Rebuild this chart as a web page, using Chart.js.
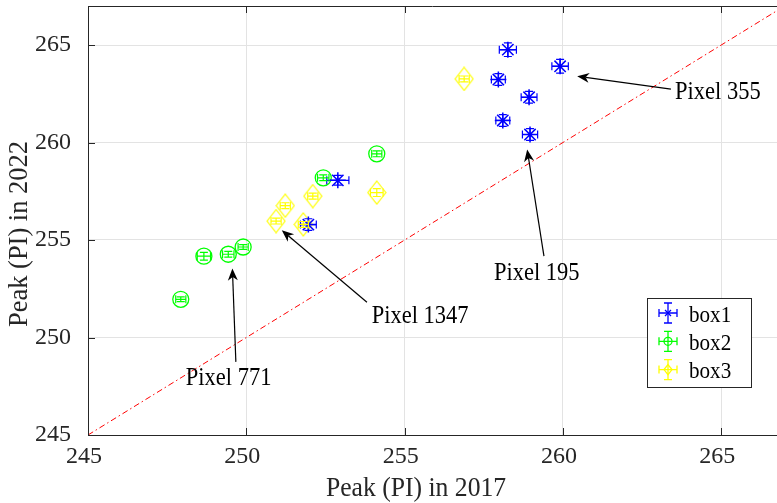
<!DOCTYPE html>
<html><head><meta charset="utf-8">
<script src="https://cdn.jsdelivr.net/npm/chart.js@4/dist/chart.umd.min.js"></script>
<style>html,body{margin:0;padding:0;background:#fff}#wrap{width:777px;height:503px;position:relative}</style>
</head><body><div id="wrap"><canvas id="c" width="777" height="503"></canvas></div>
<script>
// ---- data ----
const seriesNames = ['box1', 'box2', 'box3'];
const box1X    = [258.26, 259.91, 257.96, 258.93, 258.10, 258.96, 252.89, 251.96];
const box1Y    = [264.76, 263.91, 263.23, 262.32, 261.13, 260.41, 258.06, 255.79];
const box1XErr = [0.27, 0.26, 0.22, 0.25, 0.22, 0.24, 0.35, 0.25];
const box1YErr = [0.35, 0.35, 0.30, 0.30, 0.30, 0.30, 0.25, 0.30];
const box2X    = [247.93, 248.66, 249.43, 249.90, 252.43, 254.12];
const box2Y    = [251.96, 254.17, 254.27, 254.64, 258.19, 259.42];
const box2XErr = [0.16, 0.21, 0.18, 0.16, 0.18, 0.16];
const box2YErr = [0.12, 0.20, 0.15, 0.12, 0.15, 0.15];
const box3X    = [250.94, 251.23, 251.80, 252.10, 254.12, 256.88];
const box3Y    = [255.97, 256.76, 255.80, 257.25, 257.43, 263.26];
const box3XErr = [0.16, 0.16, 0.16, 0.16, 0.20, 0.16];
const box3YErr = [0.15, 0.15, 0.15, 0.15, 0.20, 0.15];
const diagX = [245, 270];
const diagY = [245, 270];
const xTicks = [245, 250, 255, 260, 265];
const yTicks = [245, 250, 255, 260, 265];
const xTitle = 'Peak (PI) in 2017';
const yTitle = 'Peak (PI) in 2022';
const annoLabels = ['Pixel 355', 'Pixel 195', 'Pixel 1347', 'Pixel 771'];
const annoTextX  = [263.54, 257.82, 253.96, 248.09];
const annoTextY  = [262.24, 252.97, 250.72, 247.56];
const arrowTailX = [263.41, 259.40, 253.81, 249.67];
const arrowTailY = [262.74, 254.17, 251.81, 248.75];
const arrowHeadX = [260.45, 258.87, 251.12, 249.56];
const arrowHeadY = [263.40, 259.64, 255.50, 253.54];

// ---- styling helpers ----
const FONT = 'Liberation Serif';
const AX = '#262626';
const colors = ['#0000ff', '#00ff00', '#ffff00'];

function diamondCanvas(w, h, color) {
  const c = document.createElement('canvas');
  c.width = w + 2; c.height = h + 2;
  const g = c.getContext('2d');
  g.strokeStyle = color; g.lineWidth = 1.2;
  g.beginPath();
  g.moveTo(c.width / 2, 1);
  g.lineTo(c.width - 1, c.height / 2);
  g.lineTo(c.width / 2, c.height - 1);
  g.lineTo(1, c.height / 2);
  g.closePath(); g.stroke();
  return c;
}

function pts(xs, ys) { return xs.map((v, i) => ({ x: v, y: ys[i] })); }

function text(ctx, s, x, y, size, align, sx, rot) {
  ctx.save();
  ctx.translate(x, y);
  if (rot) ctx.rotate(rot);
  ctx.scale(sx, 1);
  ctx.font = size + 'px "' + FONT + '", "Times New Roman", serif';
  ctx.textAlign = align;
  ctx.textBaseline = 'alphabetic';
  ctx.fillText(s, 0, 0);
  ctx.restore();
}

const errPlugin = {
  id: 'errbars',
  afterDatasetsDraw(chart) {
    const { ctx, scales: { x, y } } = chart;
    const cap = 4;
    chart.data.datasets.forEach(ds => {
      if (!ds.errX) return;
      ctx.save();
      ctx.strokeStyle = ds.borderColor; ctx.lineWidth = 1.2;
      ds.data.forEach((p, j) => {
        const px = x.getPixelForValue(p.x), py = y.getPixelForValue(p.y);
        const x0 = x.getPixelForValue(p.x - ds.errX[j]), x1 = x.getPixelForValue(p.x + ds.errX[j]);
        const y0 = y.getPixelForValue(p.y - ds.errY[j]), y1 = y.getPixelForValue(p.y + ds.errY[j]);
        ctx.beginPath();
        ctx.moveTo(x0, py); ctx.lineTo(x1, py);
        ctx.moveTo(x0, py - cap); ctx.lineTo(x0, py + cap);
        ctx.moveTo(x1, py - cap); ctx.lineTo(x1, py + cap);
        ctx.moveTo(px, y0); ctx.lineTo(px, y1);
        ctx.moveTo(px - cap, y0); ctx.lineTo(px + cap, y0);
        ctx.moveTo(px - cap, y1); ctx.lineTo(px + cap, y1);
        ctx.stroke();
      });
      ctx.restore();
    });
  }
};

const framePlugin = {
  id: 'frame',
  afterDraw(chart) {
    const { ctx, chartArea: a, scales: { x, y } } = chart;
    ctx.save();
    ctx.strokeStyle = AX; ctx.lineWidth = 1;
    ctx.beginPath();
    ctx.moveTo(a.left, a.top + 0.5); ctx.lineTo(a.right, a.top + 0.5);
    const tl = 7;
    xTicks.forEach(v => {
      const px = Math.round(x.getPixelForValue(v)) + 0.5;
      ctx.moveTo(px, a.bottom); ctx.lineTo(px, a.bottom - tl);
      ctx.moveTo(px, a.top); ctx.lineTo(px, a.top + tl);
    });
    yTicks.forEach(v => {
      const py = Math.round(y.getPixelForValue(v)) + 0.5;
      ctx.moveTo(a.left, py); ctx.lineTo(a.left + tl, py);
    });
    ctx.stroke();

    // annotations (arrows + labels)
    ctx.fillStyle = '#000'; ctx.strokeStyle = '#000';
    annoLabels.forEach((lab, i) => {
      const tx = x.getPixelForValue(arrowTailX[i]), ty = y.getPixelForValue(arrowTailY[i]);
      const hx = x.getPixelForValue(arrowHeadX[i]), hy = y.getPixelForValue(arrowHeadY[i]);
      const ang = Math.atan2(hy - ty, hx - tx);
      const L = 12, W = 5, N = 8.5;
      const bx = hx - N * Math.cos(ang), by = hy - N * Math.sin(ang);
      ctx.beginPath(); ctx.lineWidth = 1.2;
      ctx.moveTo(tx, ty); ctx.lineTo(bx, by); ctx.stroke();
      const cx = hx - L * Math.cos(ang), cy = hy - L * Math.sin(ang);
      ctx.beginPath();
      ctx.moveTo(hx, hy);
      ctx.lineTo(cx - W * Math.sin(ang), cy + W * Math.cos(ang));
      ctx.lineTo(bx, by);
      ctx.lineTo(cx + W * Math.sin(ang), cy - W * Math.cos(ang));
      ctx.closePath(); ctx.fill();
      text(ctx, lab, x.getPixelForValue(annoTextX[i]), y.getPixelForValue(annoTextY[i]), 25, 'left', 0.9);
    });

    // legend
    const lx = 647.5, ly = 298.5, lw = 104, lh = 89;
    ctx.fillStyle = '#fff'; ctx.fillRect(lx, ly, lw, lh);
    ctx.strokeStyle = AX; ctx.lineWidth = 1; ctx.strokeRect(lx, ly, lw, lh);
    seriesNames.forEach((nm, i) => {
      const cy = 313 + i * 28.3, cx = 668;
      ctx.strokeStyle = colors[i]; ctx.lineWidth = 1.3;
      ctx.beginPath();
      ctx.moveTo(cx - 9, cy); ctx.lineTo(cx + 9, cy);
      ctx.moveTo(cx - 9, cy - 4); ctx.lineTo(cx - 9, cy + 4);
      ctx.moveTo(cx + 9, cy - 4); ctx.lineTo(cx + 9, cy + 4);
      ctx.moveTo(cx, cy - 10); ctx.lineTo(cx, cy + 10);
      ctx.moveTo(cx - 4, cy - 10); ctx.lineTo(cx + 4, cy - 10);
      ctx.moveTo(cx - 4, cy + 10); ctx.lineTo(cx + 4, cy + 10);
      ctx.stroke();
      ctx.beginPath();
      if (i === 0) {
        ctx.moveTo(cx - 3, cy - 3); ctx.lineTo(cx + 3, cy + 3);
        ctx.moveTo(cx + 3, cy - 3); ctx.lineTo(cx - 3, cy + 3);
        ctx.stroke();
      } else if (i === 1) {
        ctx.arc(cx, cy, 4, 0, Math.PI * 2); ctx.stroke();
      } else {
        ctx.moveTo(cx, cy - 5); ctx.lineTo(cx + 4, cy); ctx.lineTo(cx, cy + 5); ctx.lineTo(cx - 4, cy); ctx.closePath(); ctx.stroke();
      }
      ctx.fillStyle = '#000';
      text(ctx, nm, 689, cy + 8.7, 24, 'left', 0.88);
    });

    // axis titles
    ctx.fillStyle = AX;
    text(ctx, xTitle, 416, 496, 27, 'center', 0.95);
    text(ctx, yTitle, 27, 234, 27, 'center', 0.98, -Math.PI / 2);
    ctx.restore();
  }
};

function build() {
  const diamond = diamondCanvas(18, 23, colors[2]);
  const tickFont = { family: '"' + FONT + '", "Times New Roman", serif', size: 24 };
  new Chart(document.getElementById('c'), {
    type: 'scatter',
    data: {
      datasets: [
        { label: seriesNames[0], data: pts(box1X, box1Y), errX: box1XErr, errY: box1YErr,
          pointStyle: 'star', pointRadius: 8, borderColor: colors[0], backgroundColor: colors[0], borderWidth: 1.5 },
        { label: seriesNames[1], data: pts(box2X, box2Y), errX: box2XErr, errY: box2YErr,
          pointStyle: 'circle', pointRadius: 8, borderColor: colors[1], backgroundColor: 'rgba(0,0,0,0)', borderWidth: 1.3 },
        { label: seriesNames[2], data: pts(box3X, box3Y), errX: box3XErr, errY: box3YErr,
          pointStyle: diamond, pointRadius: 9, borderColor: colors[2], backgroundColor: 'rgba(0,0,0,0)', borderWidth: 1 },
        { type: 'line', label: 'y=x', data: pts(diagX, diagY), showLine: true, pointRadius: 0,
          borderColor: '#ff0000', borderWidth: 1, borderDash: [6, 3, 1.5, 3], fill: false, order: 10 }
      ]
    },
    options: {
      responsive: false,
      animation: false,
      devicePixelRatio: 1,
      layout: { autoPadding: false, padding: { top: 6, right: 0, left: 0, bottom: 0 } },
      plugins: { legend: { display: false }, tooltip: { enabled: false } },
      scales: {
        x: {
          type: 'linear', min: 245, max: 266.76,
          afterBuildTicks: s => { s.ticks = xTicks.map(v => ({ value: v })); },
          afterFit: s => { s.height = 68; s.paddingLeft = 0; s.paddingRight = 0; },
          grid: { color: '#e3e3e3', drawTicks: false, lineWidth: 1 },
          border: { display: true, color: AX, width: 1 },
          ticks: { font: tickFont, color: AX, padding: 7, labelOffset: -4, maxRotation: 0, autoSkip: false,
                   callback: v => String(v) }
        },
        y: {
          type: 'linear', min: 245, max: 267,
          afterBuildTicks: s => { s.ticks = yTicks.map(v => ({ value: v })); },
          afterFit: s => { s.width = 88; s.paddingTop = 0; s.paddingBottom = 0; },
          grid: { color: '#e3e3e3', drawTicks: false, lineWidth: 1 },
          border: { display: true, color: AX, width: 1 },
          ticks: { font: tickFont, color: AX, padding: 17, autoSkip: false, callback: v => String(v) }
        }
      }
    },
    plugins: [errPlugin, framePlugin]
  });
}
const fontLoads = [24, 25, 27].map(s => document.fonts.load(s + 'px "' + FONT + '"'));
Promise.all(fontLoads).then(build, build);
</script>
</body></html>
